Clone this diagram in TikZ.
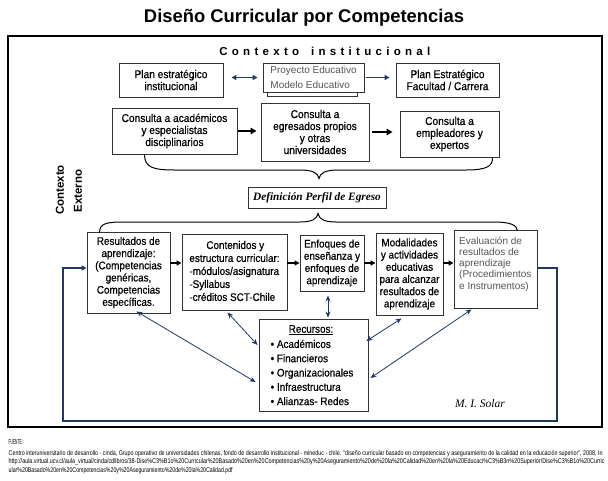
\documentclass[tikz,border=0pt]{standalone}
\usepackage{fontspec}
\usepackage{graphicx}
\usetikzlibrary{arrows.meta,calc}
\setmainfont{Liberation Sans}
\newfontfamily\narrow[FakeStretch=0.9,FakeBold=0.6]{Liberation Sans}
\newfontfamily\serifx{Liberation Serif}
\definecolor{navy}{HTML}{1F3864}
\definecolor{boxc}{HTML}{333333}
\definecolor{txtgray}{HTML}{555555}
\makeatletter
\newcommand\spacedtext[2]{\@tfor\sp@c:=#2\do{\sp@c\hspace{#1}}\hspace{-#1}}
\makeatother
\tikzset{
  bx/.style={draw=boxc, line width=0.9pt, fill=white, inner sep=0pt},
  tx/.style={font=\narrow\fontsize{11.3}{12}\selectfont, align=center},
  tx3/.style={font=\narrow\fontsize{11}{12.2}\selectfont, align=center},
  navyline/.style={draw=navy, line width=1.3pt},
  blk2/.style={draw=black, line width=1.8pt, -{Triangle[length=6pt,width=6.5pt]}},
  blk3/.style={draw=black, line width=1.3pt, -{Triangle[length=5pt,width=5pt]}},
  diag/.style={draw=navy, line width=0.8pt, {Stealth[length=6pt,width=5pt]}-{Stealth[length=6pt,width=5pt]}},
  fbline/.style={draw=navy, line width=2.2pt, -{Triangle[length=5pt,width=5pt]}},
  bracepath/.style={draw=black, line width=1pt},
  foot/.style={anchor=base west, inner sep=0pt}
}
\begin{document}
\begin{tikzpicture}[x=1pt,y=-1pt]
\useasboundingbox (0,0) rectangle (608,480);
\fill[white] (0,0) rectangle (608,480);

% title and frame
\node[font=\fontsize{18.4}{22}\selectfont\bfseries] (title) at (304,18) {Diseño Curricular por Competencias};
\node[draw=black, line width=1.8pt, minimum width=594pt, minimum height=391pt, inner sep=0pt] (frame) at (305,231.5) {};

\node[font=\fontsize{11.5}{13}\selectfont\bfseries] (ctxi) at (327,51) {\spacedtext{4.3pt}{Contexto\ institucional}};

% row 1
\node[bx, tx, minimum width=104pt, minimum height=34pt] (plan1) at (171,80) {Plan estratégico\\institucional};
\node[bx, minimum width=90pt, minimum height=30pt] (proyb) at (312,81) {};
\node[bx, minimum width=101pt, minimum height=29pt, font=\fontsize{10}{15}\selectfont, text=txtgray, align=left] (proy) at (313.5,77.5) {Proyecto Educativo\\Modelo Educativo};
\node[bx, tx, minimum width=103pt, minimum height=34pt] (plan2) at (447.5,80) {Plan Estratégico\\Facultad / Carrera};

% row 2
\node[bx, tx, minimum width=125pt, minimum height=46pt] (c1) at (174.5,131) {Consulta a académicos\\y especialistas\\disciplinarios};
\node[bx, tx, minimum width=108pt, minimum height=58pt] (c2) at (315,132) {Consulta a\\egresados propios\\y otras\\universidades};
\node[bx, tx, minimum width=99pt, minimum height=46pt] (c3) at (449.5,134) {Consulta a\\empleadores y\\expertos};

% contexto externo
\node[rotate=90, font=\fontsize{11.5}{13}\selectfont\bfseries] (ce1) at (60,190) {Contexto};
\node[rotate=90, font=\fontsize{11.5}{13}\selectfont\bfseries] (ce2) at (78,191) {Externo};

% definicion
\node[bx, minimum width=138pt, minimum height=21pt, font=\serifx\bfseries\itshape\fontsize{11.3}{13}\selectfont] (def) at (317,197.5) {Definición Perfil de Egreso};

% row 3
\node[bx, tx3, minimum width=83pt, minimum height=81pt] (res) at (128.5,272.5) {Resultados de\\aprendizaje:\\(Competencias\\genéricas,\\Competencias\\específicas.};
\node[bx, minimum width=105pt, minimum height=76pt] (cont) at (234.5,272) {};
\node[font=\narrow\fontsize{11}{13}\selectfont, align=left, inner sep=0pt] (contt) at (234.5,271) {\hspace*{17pt}Contenidos y\\estructura curricular:\\-módulos/asignatura\\-Syllabus\\-créditos SCT-Chile};
\node[bx, tx3, minimum width=64pt, minimum height=56pt] (enf) at (332,263) {Enfoques de\\enseñanza y\\enfoques de\\aprendizaje};
\node[bx, tx3, minimum width=67pt, minimum height=82pt] (mod) at (409.5,274) {Modalidades\\y actividades\\educativas\\para alcanzar\\resultados de\\aprendizaje};
\node[bx, minimum width=83pt, minimum height=78pt] (eva) at (495.5,269) {};
\node[anchor=west, font=\fontsize{10}{11.2}\selectfont, text=txtgray, align=left, inner sep=0pt] (evat) at (459,264) {Evaluación de\\resultados de\\aprendizaje\\(Procedimientos\\e Instrumentos)};

% recursos
\node[bx, minimum width=109pt, minimum height=92pt] (rec) at (313.5,365) {};
\node[tx3, inner sep=0pt] (rect) at (311,330) {\underline{Recursos:}};
\node[anchor=west, align=left, font=\narrow\fontsize{11}{14.3}\selectfont, inner sep=0pt] (recl) at (270.5,372.5) {• Académicos\\• Financieros\\• Organizacionales\\• Infraestructura\\• Alianzas- Redes};

\node[font=\serifx\itshape\fontsize{11.5}{13}\selectfont] (mis) at (480,404) {M. I. Solar};

% arrows row 1, 2
\draw[navyline, {Triangle[length=5pt,width=5pt]}-{Triangle[length=5pt,width=5pt]}, shorten <=8pt, shorten >=5pt] (plan1.east |- proy.west) -- (proy.west);
\draw[navyline, -{Triangle[length=5pt,width=5pt]}, shorten <=2pt, shorten >=6pt] (proy.east) -- (plan2.west |- proy.east);
\draw[blk2, shorten <=1pt, shorten >=4pt] (c1.east) -- (c2.west |- c1.east);
\draw[blk2, shorten <=3pt, shorten >=7pt] (c2.east) -- (c3.west |- c2.east);

% braces
\coordinate (b1s) at ($(c1.south)+(-30,0)$);
\coordinate (b1e) at ($(c3.south)+(43,0)$);
\coordinate (b1t) at ($(def.north)+(2,-8)$);
\draw[bracepath] (b1s) .. controls +(0,13) and +(-22,0) .. (175,170) -- (300,170)
  .. controls (313,170) and (318,173) .. (b1t)
  .. controls (320,173) and (325,170) .. (338,170) -- (466,170)
  .. controls (487,170) and (493,166) .. (b1e);
\coordinate (b2l) at ($(res.north west)+(13,1)$);
\coordinate (b2r) at ($(eva.north east)+(-20,1)$);
\coordinate (b2t) at ($(def.south)+(1,5)$);
\draw[bracepath] (b2l) .. controls +(0,-9) and +(-18,0) .. (124,222) -- (300,222)
  .. controls (312,222) and (317,219) .. (b2t)
  .. controls (319,219) and (324,222) .. (336,222) -- (494,222)
  .. controls (510,222) and (517,225) .. (b2r);

% row 3 arrows
\draw[blk3] (res.east |- enf.west) -- (cont.west |- enf.west);
\draw[blk3] (cont.east |- enf.west) -- (enf.west);
\draw[blk3] (enf.east) -- (mod.west |- enf.east);
\draw[blk3] (mod.east |- enf.east) -- (eva.west |- enf.east);

% vertical double arrow
\coordinate (va) at ($(enf.south)+(-4,0)$);
\draw[diag, line width=0.9pt, shorten <=4pt, shorten >=1pt] (va) -- (va |- rec.north);

% diagonals
\draw[diag] ($(res.south)+(8,-2)$) -- ($(rec.west)+(-3,17)$);
\draw[diag] ($(cont.south)+(-7,2)$) -- ($(rec.west)+(-1,-20)$);
\draw[diag] ($(mod.south)+(-8,3)$) -- ($(rec.east)+(-2,-24)$);
\draw[diag] ($(eva.south)+(-24,1)$) -- ($(rec.east)+(2,13)$);

% feedback loop
\coordinate (fb1) at ($(eva.east)+(0,-1)$);
\coordinate (loopR) at (557,421);
\coordinate (loopL) at (63,421);
\draw[fbline] (fb1) -- (fb1 -| loopR) -- (loopR) -- (loopL) -- (loopL |- fb1) -- (res.west |- fb1);

% footer
\node[foot] (f0) at (8.5,444.5) {\resizebox{14pt}{5pt}{FUENTE:}};
\node[foot] (f1) at (8.5,455) {\resizebox{594pt}{5pt}{Centro interuniversitario de desarrollo - cinda, Grupo operativo de universidades chilenas, fondo de desarrollo institucional - mineduc - chile. ``diseño curricular basado en competencias y aseguramiento de la calidad en la educación superior'', 2008, In}};
\node[foot] (f2) at (8.5,463.5) {\resizebox{596pt}{5pt}{http://aula.virtual.ucv.cl/aula\_virtual/cinda/cdlibros/38-Dise\%C3\%B1o\%20Curricular\%20Basado\%20en\%20Competencias\%20y\%20Aseguramiento\%20de\%20la\%20Calidad\%20en\%20la\%20Educaci\%C3\%B3n\%20Superior/Dise\%C3\%B1o\%20Curric}};
\node[foot] (f3) at (8.5,472) {\resizebox{224pt}{5pt}{ular\%20Basado\%20en\%20Competencias\%20y\%20Aseguramiento\%20de\%20la\%20Calidad.pdf}};
\end{tikzpicture}
\end{document}
